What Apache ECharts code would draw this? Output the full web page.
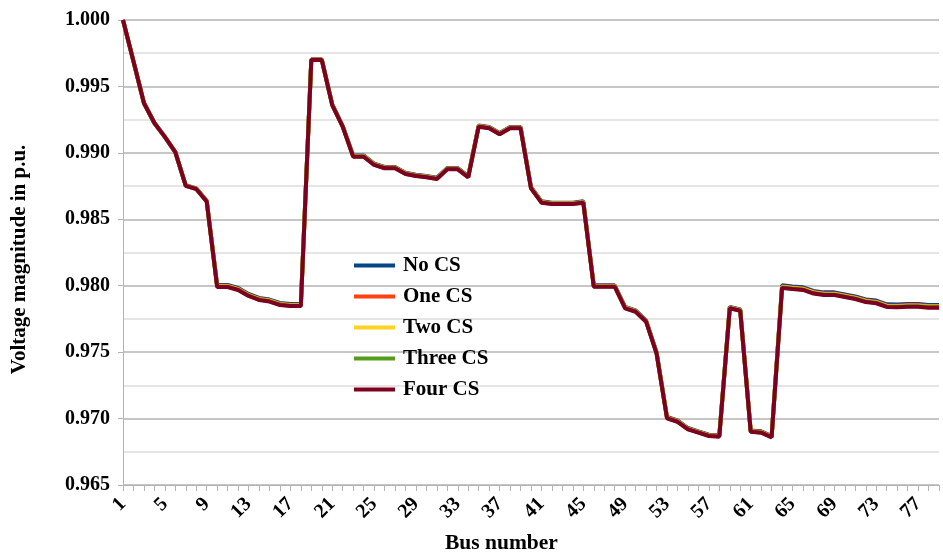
<!DOCTYPE html>
<html>
<head>
<meta charset="utf-8">
<script src="https://cdn.jsdelivr.net/npm/echarts@6/dist/echarts.min.js"></script>
<style>
  html, body { margin: 0; padding: 0; background: #ffffff; }
  #chart { width: 943px; height: 556px; }
</style>
</head>
<body>
<div id="chart"></div>
<script>
// Bus numbers 1..79
const buses = [
  '1','2','3','4','5','6','7','8','9','10','11','12','13','14','15','16','17','18','19','20',
  '21','22','23','24','25','26','27','28','29','30','31','32','33','34','35','36','37','38','39','40',
  '41','42','43','44','45','46','47','48','49','50','51','52','53','54','55','56','57','58','59','60',
  '61','62','63','64','65','66','67','68','69','70','71','72','73','74','75','76','77','78','79'
];

const seriesNames = ['No CS', 'One CS', 'Two CS', 'Three CS', 'Four CS'];
const seriesColors = ['#004586', '#ff420e', '#ffd320', '#579d1c', '#7e0021'];

// Voltage magnitude (p.u.) per bus for each charging-station scenario
const noCS = [
  1.00000,0.99690,0.99375,0.99225,0.99120,0.99006,0.98756,0.98733,0.98639,0.98005,
  0.98005,0.97983,0.97938,0.97908,0.97896,0.97870,0.97862,0.97862,0.99704,0.99704,
  0.99365,0.99202,0.98981,0.98981,0.98919,0.98894,0.98894,0.98851,0.98836,0.98826,
  0.98813,0.98886,0.98886,0.98826,0.99207,0.99195,0.99150,0.99195,0.99195,0.98743,
  0.98635,0.98625,0.98625,0.98625,0.98635,0.98003,0.98003,0.98003,0.97840,0.97814,
  0.97739,0.97501,0.97012,0.96986,0.96929,0.96904,0.96879,0.96874,0.97840,0.97822,
  0.96911,0.96904,0.96869,0.98003,0.97995,0.97988,0.97961,0.97950,0.97950,0.97935,
  0.97920,0.97897,0.97888,0.97860,0.97858,0.97862,0.97862,0.97855,0.97855
];
const oneCS = [
  1.00000,0.99690,0.99375,0.99225,0.99120,0.99006,0.98754,0.98731,0.98637,0.97999,
  0.97999,0.97977,0.97932,0.97902,0.97890,0.97864,0.97856,0.97856,0.99702,0.99702,
  0.99363,0.99200,0.98977,0.98977,0.98915,0.98890,0.98890,0.98847,0.98832,0.98822,
  0.98809,0.98882,0.98882,0.98822,0.99203,0.99191,0.99146,0.99191,0.99191,0.98739,
  0.98631,0.98621,0.98621,0.98621,0.98631,0.97999,0.97999,0.97999,0.97836,0.97810,
  0.97735,0.97497,0.97008,0.96982,0.96925,0.96900,0.96875,0.96870,0.97836,0.97818,
  0.96907,0.96900,0.96865,0.97995,0.97987,0.97980,0.97953,0.97942,0.97942,0.97927,
  0.97912,0.97889,0.97880,0.97852,0.97850,0.97854,0.97854,0.97847,0.97847
];
const twoCS = [
  1.00000,0.99690,0.99375,0.99225,0.99120,0.99006,0.98753,0.98730,0.98636,0.97996,
  0.97996,0.97974,0.97929,0.97899,0.97887,0.97861,0.97853,0.97853,0.99701,0.99701,
  0.99362,0.99199,0.98975,0.98975,0.98913,0.98888,0.98888,0.98845,0.98830,0.98820,
  0.98807,0.98880,0.98880,0.98820,0.99201,0.99189,0.99144,0.99189,0.99189,0.98737,
  0.98629,0.98619,0.98619,0.98619,0.98629,0.97997,0.97997,0.97997,0.97834,0.97808,
  0.97733,0.97495,0.97006,0.96980,0.96923,0.96898,0.96873,0.96868,0.97834,0.97816,
  0.96905,0.96898,0.96863,0.97991,0.97983,0.97976,0.97949,0.97938,0.97938,0.97923,
  0.97908,0.97885,0.97876,0.97848,0.97846,0.97850,0.97850,0.97843,0.97843
];
const threeCS = [
  1.00000,0.99690,0.99375,0.99225,0.99120,0.99006,0.98752,0.98729,0.98635,0.97993,
  0.97993,0.97971,0.97926,0.97896,0.97884,0.97858,0.97850,0.97850,0.99700,0.99700,
  0.99361,0.99198,0.98973,0.98973,0.98911,0.98886,0.98886,0.98843,0.98828,0.98818,
  0.98805,0.98878,0.98878,0.98818,0.99199,0.99187,0.99142,0.99187,0.99187,0.98735,
  0.98627,0.98617,0.98617,0.98617,0.98627,0.97995,0.97995,0.97995,0.97832,0.97806,
  0.97731,0.97493,0.97004,0.96978,0.96921,0.96896,0.96871,0.96866,0.97832,0.97814,
  0.96903,0.96896,0.96861,0.97987,0.97979,0.97972,0.97945,0.97934,0.97934,0.97919,
  0.97904,0.97881,0.97872,0.97844,0.97842,0.97846,0.97846,0.97839,0.97839
];
const fourCS = [
  1.00000,0.99690,0.99375,0.99225,0.99120,0.99006,0.98751,0.98728,0.98634,0.97990,
  0.97990,0.97968,0.97923,0.97893,0.97881,0.97855,0.97847,0.97847,0.99699,0.99699,
  0.99360,0.99197,0.98971,0.98971,0.98909,0.98884,0.98884,0.98841,0.98826,0.98816,
  0.98803,0.98876,0.98876,0.98816,0.99197,0.99185,0.99140,0.99185,0.99185,0.98733,
  0.98625,0.98615,0.98615,0.98615,0.98625,0.97993,0.97993,0.97993,0.97830,0.97804,
  0.97729,0.97491,0.97002,0.96976,0.96919,0.96894,0.96869,0.96864,0.97830,0.97812,
  0.96901,0.96894,0.96859,0.97983,0.97975,0.97968,0.97941,0.97930,0.97930,0.97915,
  0.97900,0.97877,0.97868,0.97840,0.97838,0.97842,0.97842,0.97835,0.97835
];
const seriesData = [noCS, oneCS, twoCS, threeCS, fourCS];

const yMin = 0.965, yMax = 1.000, yStep = 0.005;
const serif = "'Liberation Serif', 'Times New Roman', serif";

const chart = echarts.init(document.getElementById('chart'), null, { renderer: 'canvas' });

chart.setOption({
  animation: false,
  backgroundColor: '#ffffff',
  title: {
    text: 'Bus number',
    left: 445,
    top: 532,
    padding: 0,
    textStyle: { fontFamily: serif, fontWeight: 'bold', fontSize: 21.5, color: '#000' }
  },
  grid: { left: 123, right: 4, top: 20, bottom: 71 },
  legend: {
    orient: 'vertical',
    left: 354,
    top: 255,
    padding: 0,
    icon: 'rect',
    itemWidth: 41,
    itemHeight: 4,
    itemGap: 10,
    data: seriesNames,
    textStyle: {
      fontFamily: serif, fontWeight: 'bold', fontSize: 21, color: '#000',
      lineHeight: 21, padding: [0, 0, 0, 3]
    }
  },
  xAxis: {
    type: 'category',
    data: buses,
    boundaryGap: false,
    axisLine: { lineStyle: { color: '#b3b3b3', width: 1 } },
    axisTick: { show: true, interval: 0, length: 6, lineStyle: { color: '#b3b3b3' } },
    axisLabel: {
      interval: 3,
      rotate: 45,
      margin: 16,
      fontFamily: serif,
      fontWeight: 'bold',
      fontSize: 20,
      color: '#000'
    },
    splitLine: { show: false }
  },
  yAxis: {
    type: 'value',
    min: yMin,
    max: yMax,
    interval: yStep,
    name: 'Voltage magnitude in p.u.',
    nameLocation: 'middle',
    nameGap: 93,
    nameTextStyle: { fontFamily: serif, fontWeight: 'bold', fontSize: 21, color: '#000', padding: [0, 14, 0, 0] },
    axisLine: { show: true, lineStyle: { color: '#b3b3b3', width: 1 } },
    axisTick: { show: true, length: 5, lineStyle: { color: '#b3b3b3' } },
    axisLabel: {
      margin: 13,
      formatter: v => v.toFixed(3),
      fontFamily: serif,
      fontWeight: 'bold',
      fontSize: 20,
      color: '#000'
    },
    splitLine: { show: true, lineStyle: { color: '#b3b3b3', width: 1.5 } },
    minorTick: { show: false, splitNumber: 2 },
    minorSplitLine: { show: true, lineStyle: { color: '#dddddd', width: 1.5 } }
  },
  series: seriesNames.map((name, i) => ({
    name: name,
    type: 'line',
    data: seriesData[i],
    showSymbol: false,
    symbol: 'none',
    color: seriesColors[i],
    lineStyle: { width: 4, color: seriesColors[i] }
  }))
});
</script>
</body>
</html>
